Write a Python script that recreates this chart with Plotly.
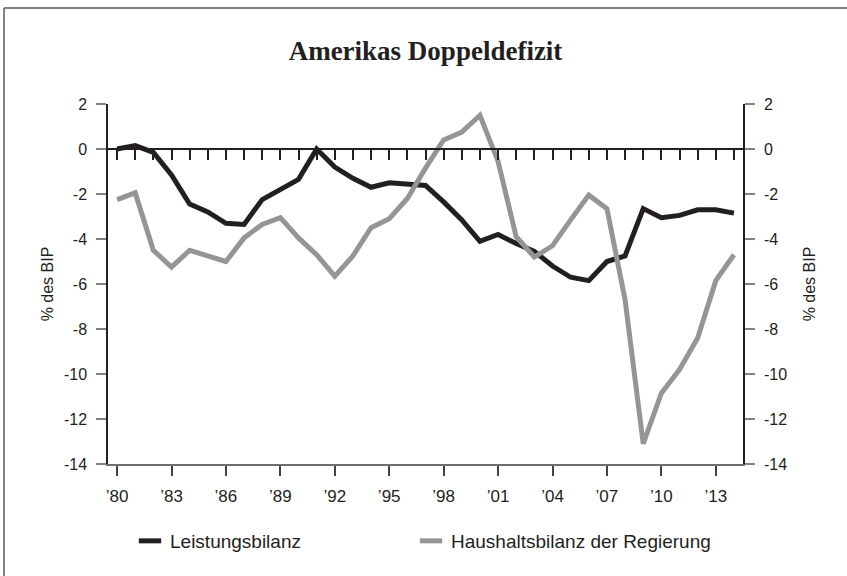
import plotly.graph_objects as go

# ---- data ----
years = list(range(1980, 2015))
leistungsbilanz = [0.0, 0.15, -0.15, -1.15, -2.45, -2.8, -3.3, -3.35, -2.25, -1.8,
                   -1.35, 0.0, -0.8, -1.3, -1.7, -1.5, -1.55, -1.62, -2.35, -3.15,
                   -4.1, -3.8, -4.2, -4.55, -5.2, -5.7, -5.85, -5.0, -4.75, -2.65,
                   -3.05, -2.95, -2.7, -2.7, -2.85]
haushaltsbilanz = [-2.25, -1.95, -4.5, -5.25, -4.5, -4.75, -5.0, -3.95, -3.35, -3.05,
                   -3.95, -4.7, -5.65, -4.75, -3.5, -3.1, -2.2, -0.85, 0.4, 0.75,
                   1.5, -0.55, -3.9, -4.8, -4.3, -3.15, -2.05, -2.65, -6.7, -13.1,
                   -10.85, -9.8, -8.4, -5.85, -4.7]
x_tickvals = list(range(1980, 2014, 3))
x_ticktext = ["\u2019" + str(y)[2:] for y in x_tickvals]
y_tickvals = [2, 0, -2, -4, -6, -8, -10, -12, -14]
y_ticktext = [str(v) for v in y_tickvals]  # plain hyphen minus as in the original
series_names = ["Leistungsbilanz", "Haushaltsbilanz der Regierung"]
title_text = "Amerikas Doppeldefizit"
y_title = "% des BIP"

BLACK = "#231f20"
GREY = "#939598"
TICKGREY = "#808285"
FONT = "Liberation Sans, Arial, sans-serif"

W, H = 847, 576
L, R, T, B = 108, 104, 104, 112
pw, ph = W - L - R, H - T - B


def px_x(p):
    return (p - L) / pw


def px_y(p):
    return (H - B - p) / ph


fig = go.Figure()

fig.add_trace(go.Scatter(x=years, y=leistungsbilanz, mode="lines",
                         line=dict(color=BLACK, width=5), showlegend=False,
                         hoverinfo="x+y", name=series_names[0]))
fig.add_trace(go.Scatter(x=years, y=haushaltsbilanz, mode="lines",
                         line=dict(color=GREY, width=5), showlegend=False,
                         hoverinfo="x+y", name=series_names[1]))
# legend entries (short bar swatches)
for nm, col, lw in zip(series_names, [BLACK, GREY], [236, 268]):
    fig.add_trace(go.Scatter(x=[None], y=[None], mode="markers", name=nm,
                             legendwidth=lw,
                             marker=dict(symbol="line-ew", size=16,
                                         line=dict(color=col, width=5))))
# helper traces for the zero-line axis and the right axis
fig.add_trace(go.Scatter(x=[None], y=[None], xaxis="x2", yaxis="y",
                         showlegend=False, hoverinfo="skip"))
fig.add_trace(go.Scatter(x=[None], y=[None], xaxis="x", yaxis="y2",
                         showlegend=False, hoverinfo="skip"))

xr = [1979.5, 2014.5]
yr = [-14, 2]

fig.update_layout(
    width=W, height=H,
    margin=dict(l=L, r=R, t=T, b=B, autoexpand=False),
    paper_bgcolor="white", plot_bgcolor="white",
    title=dict(text="<b>" + title_text + "</b>", x=0.5, xref="paper",
               y=1 - 51 / H, yref="container", yanchor="middle",
               font=dict(family="Liberation Serif, Times New Roman, serif",
                         size=27, color=BLACK)),
    xaxis=dict(range=xr, tickvals=x_tickvals, ticktext=x_ticktext,
               showgrid=False, zeroline=False, showline=True,
               linecolor="#6d6e71", linewidth=1.5,
               ticks="outside", ticklen=10, tickwidth=1.5, tickcolor="#414042",
               ticklabelstandoff=6,
               tickfont=dict(family=FONT, size=17, color=BLACK)),
    xaxis2=dict(range=xr, overlaying="x", anchor="free",
                position=(0 - yr[0]) / (yr[1] - yr[0]), side="bottom",
                tick0=1980, dtick=1, showticklabels=False,
                showgrid=False, zeroline=False, showline=True,
                linecolor=BLACK, linewidth=1.5,
                ticks="outside", ticklen=10, tickwidth=1.5, tickcolor=BLACK),
    yaxis=dict(range=yr, tickvals=y_tickvals, ticktext=y_ticktext,
               showgrid=False, zeroline=False,
               showline=True, linecolor=BLACK, linewidth=1.5,
               ticks="outside", ticklen=10, tickwidth=1.5, tickcolor=TICKGREY,
               ticklabelstandoff=6,
               tickfont=dict(family=FONT, size=16, color=BLACK),
               title=dict(text=y_title, standoff=6,
                          font=dict(family=FONT, size=16, color=BLACK))),
    yaxis2=dict(range=yr, tickvals=y_tickvals, ticktext=y_ticktext,
                overlaying="y", side="right",
                anchor="x", showgrid=False, zeroline=False,
                showline=True, linecolor=BLACK, linewidth=1.5,
                ticks="outside", ticklen=10, tickwidth=1.5, tickcolor=TICKGREY,
                ticklabelstandoff=6,
                tickfont=dict(family=FONT, size=16, color=BLACK),
                title=dict(text=y_title, standoff=18,
                           font=dict(family=FONT, size=16, color=BLACK))),
    legend=dict(orientation="h", x=px_x(130), xanchor="left",
                y=px_y(541), yanchor="middle",
                font=dict(family=FONT, size=19, color=BLACK),
                bgcolor="rgba(0,0,0,0)", borderwidth=0),
    shapes=[
        dict(type="line", xref="paper", yref="paper",
             x0=px_x(4), x1=px_x(4), y0=px_y(8), y1=px_y(H + 2),
             line=dict(color="#58595b", width=1.5)),
        dict(type="line", xref="paper", yref="paper",
             x0=px_x(4), x1=px_x(W + 2), y0=px_y(8), y1=px_y(8),
             line=dict(color="#58595b", width=1.5)),
    ],
)

fig.write_html("out.html",
               config={"displayModeBar": False},
               post_script="document.body.style.margin='0';"
                           "document.body.style.padding='0';")
